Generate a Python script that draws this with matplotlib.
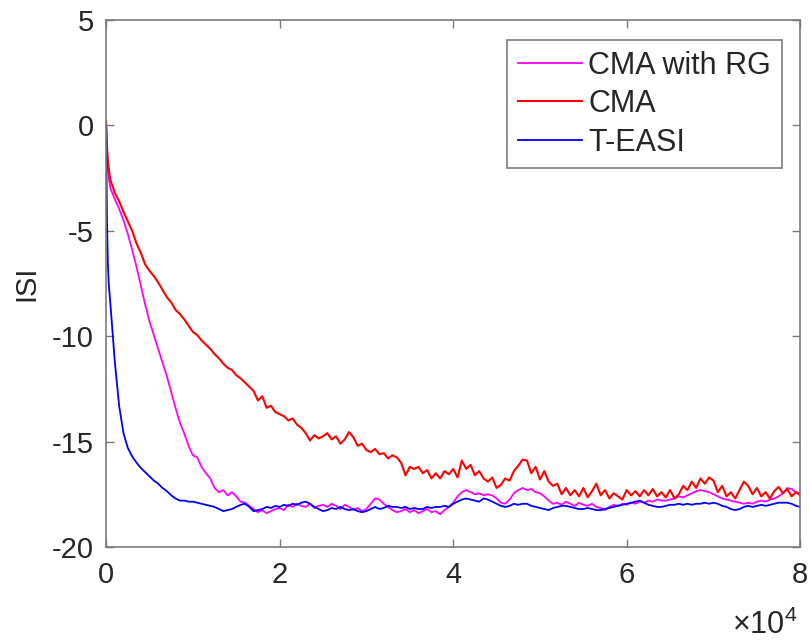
import numpy as np
import matplotlib
matplotlib.use("Agg")
import matplotlib.pyplot as plt
from matplotlib.ticker import FuncFormatter

plt.rcParams['font.family'] = ['Liberation Sans', 'DejaVu Sans']
plt.rcParams['mathtext.fontset'] = 'custom'
plt.rcParams['mathtext.rm'] = 'Liberation Sans'
plt.rcParams['axes.unicode_minus'] = False

SCALE = 1e4

# Shared sample grid (in units of 1e4 iterations) for the main body of each curve
grid = np.round(np.arange(0.05, 8.0001, 0.05), 2)

# ---- CMA with RG ----
rg_head_x = [0.0, 0.01, 0.02, 0.035]
rg_head_y = [0.0, -1.2, -2.0, -2.6]
rg_y = [
    -3.0, -3.5, -3.95, -4.5, -5.15, -5.9, -6.7, -7.6, -8.5, -9.3,
    -9.95, -10.6, -11.25, -11.9, -12.65, -13.4, -14.1, -14.6, -15.2, -15.65,
    -15.75, -16.2, -16.5, -16.75, -17.2, -17.4, -17.3, -17.55, -17.4, -17.6,
    -17.85, -17.9, -18.05, -18.2, -18.35, -18.25, -18.4, -18.3, -18.2, -18.15,
    -18.25, -18.0, -18.1, -17.95, -18.05, -18.1, -17.95, -18.15, -18.05, -18.0,
    -18.1, -17.95, -18.05, -18.2, -18.0, -18.1, -18.25, -18.15, -18.3, -18.2,
    -17.95, -17.7, -17.75, -17.95, -18.1, -18.25, -18.35, -18.3, -18.2, -18.35,
    -18.25, -18.4, -18.3, -18.2, -18.35, -18.3, -18.45, -18.25, -18.1, -17.9,
    -17.6, -17.4, -17.3, -17.4, -17.5, -17.45, -17.55, -17.5, -17.55, -17.7,
    -17.9, -17.95, -17.75, -17.45, -17.3, -17.2, -17.3, -17.25, -17.4, -17.45,
    -17.6, -17.8, -17.95, -17.9, -18.0, -17.85, -17.95, -18.05, -17.9, -18.0,
    -18.05, -17.95, -18.1, -18.15, -18.25, -18.1, -18.0, -18.05, -17.95, -18.0,
    -17.9, -17.95, -17.85, -17.9, -17.8, -17.85, -17.75, -17.8, -17.8, -17.75,
    -17.7, -17.6, -17.65, -17.55, -17.45, -17.35, -17.3, -17.35, -17.4, -17.5,
    -17.6, -17.7, -17.75, -17.8, -17.85, -17.9, -17.95, -17.9, -17.95, -17.85,
    -17.8, -17.85, -17.75, -17.7, -17.6, -17.45, -17.2, -17.25, -17.4, -17.45,
]

# ---- CMA ----
cma_head_x = [0.0, 0.01, 0.02, 0.035]
cma_head_y = [0.2, -1.0, -1.7, -2.2]
cma_y = [
    -2.6, -3.2, -3.6, -4.1, -4.55, -5.0, -5.6, -6.05, -6.6, -6.9,
    -7.15, -7.45, -7.8, -8.15, -8.4, -8.75, -8.95, -9.2, -9.5, -9.8,
    -9.95, -10.2, -10.4, -10.6, -10.85, -11.05, -11.3, -11.5, -11.6, -11.85,
    -12.0, -12.2, -12.4, -12.6, -13.05, -12.85, -13.4, -13.3, -13.6, -13.7,
    -13.8, -14.0, -13.9, -14.2, -14.35, -14.6, -14.95, -14.7, -14.85, -14.75,
    -14.6, -14.9, -14.75, -15.1, -14.9, -14.55, -14.8, -15.2, -15.1, -15.4,
    -15.5, -15.35, -15.6, -15.55, -15.8, -15.65, -15.75, -16.0, -16.6, -16.2,
    -16.3, -16.2, -16.5, -16.35, -16.75, -16.5, -16.75, -16.4, -16.55, -16.3,
    -16.7, -15.9, -16.3, -16.1, -16.6, -16.4, -16.75, -16.9, -16.7, -17.2,
    -17.05, -16.75, -16.85, -16.4, -16.15, -15.85, -15.9, -16.5, -16.2, -16.8,
    -16.4, -16.9, -17.1, -17.0, -17.5, -17.2, -17.55, -17.3, -17.6, -17.2,
    -17.65, -17.35, -17.0, -17.55, -17.3, -17.7, -17.45, -17.6, -17.75, -17.3,
    -17.55, -17.35, -17.6, -17.3, -17.55, -17.25, -17.6, -17.4, -17.65, -17.3,
    -17.7, -17.5, -17.1, -17.3, -16.9, -17.2, -16.75, -17.0, -16.7, -16.85,
    -17.4, -17.1, -17.6, -17.4, -17.7, -17.3, -16.9, -17.1, -17.5, -17.2,
    -17.6, -17.4, -17.7, -17.35, -17.15, -17.45, -17.25, -17.6, -17.4, -17.55,
]

# ---- T-EASI ----
teasi_head_x = [0.0, 0.005, 0.01, 0.02, 0.03, 0.04]
teasi_head_y = [0.0, -2.5, -4.5, -6.5, -7.5, -8.0]
teasi_y = [
    -8.5, -11.2, -13.3, -14.6, -15.3, -15.7, -16.0, -16.25, -16.45, -16.65,
    -16.85, -17.0, -17.2, -17.35, -17.55, -17.7, -17.8, -17.8, -17.85, -17.85,
    -17.9, -17.95, -18.0, -18.05, -18.1, -18.2, -18.3, -18.25, -18.2, -18.1,
    -18.0, -17.95, -18.1, -18.3, -18.25, -18.2, -18.1, -18.15, -18.05, -18.1,
    -18.0, -18.05, -17.95, -18.0, -17.9, -17.85, -17.95, -18.1, -18.2, -18.3,
    -18.25, -18.15, -18.2, -18.1, -18.2, -18.25, -18.2, -18.3, -18.35, -18.3,
    -18.2, -18.1, -18.2, -18.15, -18.05, -18.1, -18.1, -18.15, -18.1, -18.2,
    -18.15, -18.2, -18.2, -18.1, -18.15, -18.1, -18.1, -18.05, -18.1, -17.95,
    -17.85, -17.75, -17.7, -17.75, -17.8, -17.85, -17.7, -17.75, -17.85, -17.95,
    -18.05, -18.1, -18.05, -17.95, -18.0, -17.95, -17.95, -18.05, -18.1, -18.15,
    -18.2, -18.25, -18.15, -18.1, -18.05, -18.05, -18.1, -18.15, -18.2, -18.2,
    -18.15, -18.2, -18.25, -18.25, -18.2, -18.15, -18.1, -18.05, -18.0, -17.95,
    -17.9, -17.85, -17.8, -17.9, -18.0, -18.05, -18.1, -18.1, -18.05, -18.0,
    -18.0, -17.95, -18.0, -17.95, -18.0, -17.95, -17.95, -17.9, -17.95, -17.9,
    -17.95, -18.05, -18.1, -18.2, -18.25, -18.2, -18.1, -18.05, -18.1, -18.05,
    -18.0, -18.05, -18.0, -17.95, -17.9, -17.9, -17.9, -17.95, -18.05, -18.1,
]

series = [
    ("CMA with RG", rg_head_x, rg_head_y, rg_y, "#ff00ff", 1.3),
    ("CMA", cma_head_x, cma_head_y, cma_y, "#ff0000", 1.5),
    ("T-EASI", teasi_head_x, teasi_head_y, teasi_y, "#0000ff", 1.3),
]

fig = plt.figure(figsize=(8.10, 6.42), dpi=100)
ax = fig.add_axes([0.131, 0.148, 0.857, 0.821])

for label, hx, hy, by, color, lw in series:
    x = np.concatenate([hx, grid]) * SCALE
    y = np.concatenate([hy, by])
    ax.plot(x, y, color=color, lw=lw, label=label)

ax.set_xlim(0, 8 * SCALE)
ax.set_ylim(-20, 5)
ax.set_xticks(np.arange(0, 8.01, 2) * SCALE)
ax.set_yticks(np.arange(-20, 5.01, 5))
ax.xaxis.set_major_formatter(FuncFormatter(lambda v, p: f"{v / SCALE:g}"))

edge = '#7a7a7a'
text_color = '#262626'
for s in ax.spines.values():
    s.set_color(edge)
    s.set_linewidth(1.2)
ax.tick_params(direction='in', length=6, width=1.0, color=edge,
               top=True, right=True, labelsize=21, labelcolor=text_color)
ax.tick_params(axis='x', pad=10)
ax.tick_params(axis='y', pad=9)

ax.set_ylabel("ISI", fontsize=21, color=text_color, labelpad=8)

# exponent of the x axis, drawn below the right end of the axis
fig.text(0.984, 0.0125, r"$\times10^{4}$", fontsize=22, color=text_color,
         ha='right', va='baseline')

leg = ax.legend(loc='upper right', bbox_to_anchor=(0.973, 0.962), borderaxespad=0,
                fontsize=22, fancybox=False, framealpha=1, edgecolor=edge,
                handlelength=2.1, handletextpad=0.2, labelspacing=0.28,
                borderpad=0.35)
leg.get_frame().set_linewidth(1.2)
for t in leg.get_texts():
    t.set_color(text_color)

fig.savefig("out.png", dpi=100)
